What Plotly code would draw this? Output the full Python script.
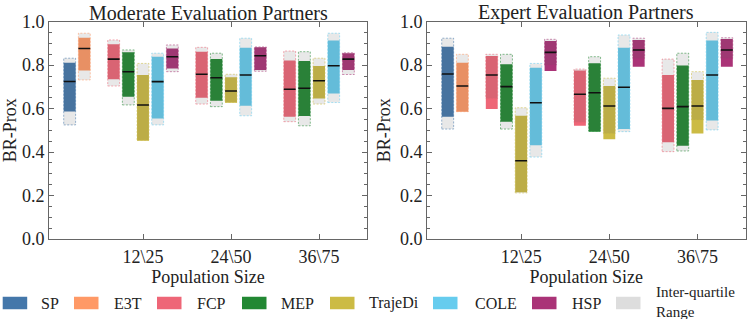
import plotly.graph_objects as go

# ---------------- data ----------------
panels = ["Moderate Evaluation Partners", "Expert Evaluation Partners"]
pop_labels = ["12\\25", "24\\50", "36\\75"]
base_methods = ["SP", "E3T"]
pop_methods = ["FCP", "MEP", "TrajeDi", "COLE", "HSP"]
legend_extra = "Inter-quartile<br>Range"

colors = {
    "SP": "#4477AA", "E3T": "#FF9966", "FCP": "#EE6677", "MEP": "#228833",
    "TrajeDi": "#CCBB44", "COLE": "#66CCEE", "HSP": "#AA3377",
}

# Moderate evaluation partners
mod_gray_lo = {"SP": [0.525], "E3T": [0.732],
               "FCP": [0.704, 0.621, 0.540], "MEP": [0.617, 0.609, 0.521],
               "TrajeDi": [0.455, 0.629, 0.621], "COLE": [0.525, 0.567, 0.628],
               "HSP": [0.770, 0.772, 0.757]}
mod_gray_hi = {"SP": [0.832], "E3T": [0.947],
               "FCP": [0.916, 0.882, 0.865], "MEP": [0.870, 0.855, 0.862],
               "TrajeDi": [0.808, 0.758, 0.832], "COLE": [0.855, 0.924, 0.947],
               "HSP": [0.893, 0.884, 0.857]}
mod_col_lo = {"SP": [0.587], "E3T": [0.775],
              "FCP": [0.735, 0.650, 0.563], "MEP": [0.655, 0.636, 0.566],
              "TrajeDi": [0.452, 0.627, 0.646], "COLE": [0.555, 0.613, 0.670],
              "HSP": [0.785, 0.778, 0.778]}
mod_col_hi = {"SP": [0.811], "E3T": [0.926],
              "FCP": [0.896, 0.862, 0.822], "MEP": [0.859, 0.828, 0.819],
              "TrajeDi": [0.755, 0.744, 0.796], "COLE": [0.839, 0.880, 0.913],
              "HSP": [0.877, 0.882, 0.855]}
mod_median = {"SP": [0.725], "E3T": [0.877],
              "FCP": [0.828, 0.758, 0.689], "MEP": [0.770, 0.742, 0.694],
              "TrajeDi": [0.617, 0.681, 0.728], "COLE": [0.724, 0.755, 0.797],
              "HSP": [0.839, 0.843, 0.828]}

# Expert evaluation partners
exp_gray_lo = {"SP": [0.506], "E3T": [0.586],
               "FCP": [0.647, 0.537, 0.402], "MEP": [0.506, 0.497, 0.405],
               "TrajeDi": [0.212, 0.486, 0.548], "COLE": [0.377, 0.494, 0.502],
               "HSP": [0.801, 0.832, 0.832]}
exp_gray_hi = {"SP": [0.924], "E3T": [0.850],
               "FCP": [0.850, 0.782, 0.828], "MEP": [0.850, 0.839, 0.855],
               "TrajeDi": [0.604, 0.740, 0.770], "COLE": [0.808, 0.939, 0.951],
               "HSP": [0.919, 0.924, 0.926]}
exp_col_lo = {"SP": [0.563], "E3T": [0.586],
              "FCP": [0.598, 0.521, 0.445], "MEP": [0.540, 0.494, 0.429],
              "TrajeDi": [0.215, 0.459, 0.486], "COLE": [0.431, 0.506, 0.545],
              "HSP": [0.773, 0.793, 0.793]}
exp_col_hi = {"SP": [0.885], "E3T": [0.811],
              "FCP": [0.842, 0.775, 0.755], "MEP": [0.804, 0.809, 0.798],
              "TrajeDi": [0.567, 0.704, 0.732], "COLE": [0.788, 0.880, 0.913],
              "HSP": [0.911, 0.916, 0.920]}
exp_median = {"SP": [0.759], "E3T": [0.704],
              "FCP": [0.755, 0.666, 0.601], "MEP": [0.701, 0.673, 0.609],
              "TrajeDi": [0.360, 0.612, 0.612], "COLE": [0.627, 0.698, 0.755],
              "HSP": [0.859, 0.870, 0.870]}

panel_data = [
    (mod_gray_lo, mod_gray_hi, mod_col_lo, mod_col_hi, mod_median),
    (exp_gray_lo, exp_gray_hi, exp_col_lo, exp_col_hi, exp_median),
]

# ---------------- layout constants ----------------
W, H = 747, 319
FONT = "Liberation Serif, serif"
step = 1.0 / 6.0
bar_w = 0.135
pop_pos = [1, 2, 3]
base_center = 0.25
x_range = [-0.068, 3.545]
x_domains = [[49 / W, 367 / W], [427 / W, 745.5 / W]]
y_domain = [(H - 239) / H, (H - 21.7) / H]
gray_overlay = "rgba(90,90,90,0.14)"
axis_col = "#666666"
text_col = "#222222"


def hex_rgba(h, a):
    h = h.lstrip("#")
    r, g, b = int(h[0:2], 16), int(h[2:4], 16), int(h[4:6], 16)
    return f"rgba({r},{g},{b},{a})"


def xpos(method):
    if method in base_methods:
        i = base_methods.index(method)
        return [base_center + (i - 0.5) * step]
    i = pop_methods.index(method)
    return [p + (i - 2) * step for p in pop_pos]


fig = go.Figure()

for pi, (glo, ghi, clo, chi, med) in enumerate(panel_data):
    xa = "x" if pi == 0 else "x2"
    ya = "y" if pi == 0 else "y2"
    for m in base_methods + pop_methods:
        xs = xpos(m)
        c = colors[m]
        # coloured box
        fig.add_trace(go.Bar(
            x=xs, base=clo[m], y=[h - l for h, l in zip(chi[m], clo[m])],
            width=bar_w, marker=dict(color=c, line=dict(width=0)),
            xaxis=xa, yaxis=ya, showlegend=False, hoverinfo="skip"))
        # grey inter-quartile box
        fig.add_trace(go.Bar(
            x=xs, base=glo[m], y=[h - l for h, l in zip(ghi[m], glo[m])],
            width=bar_w, marker=dict(color=gray_overlay, line=dict(width=0)),
            xaxis=xa, yaxis=ya, showlegend=False, hoverinfo="skip"))
        # dashed outline of grey box
        ox, oy = [], []
        for x, l, h in zip(xs, glo[m], ghi[m]):
            x0, x1 = x - bar_w / 2, x + bar_w / 2
            ox += [x0, x1, x1, x0, x0, None]
            oy += [l, l, h, h, l, None]
        fig.add_trace(go.Scatter(
            x=ox, y=oy, mode="lines",
            line=dict(color=hex_rgba(c, 0.55), width=1, dash="2px,1.5px"),
            xaxis=xa, yaxis=ya, showlegend=False, hoverinfo="skip"))
        # median
        mx, my = [], []
        for x, v in zip(xs, med[m]):
            mx += [x - bar_w / 2, x + bar_w / 2, None]
            my += [v, v, None]
        fig.add_trace(go.Scatter(
            x=mx, y=my, mode="lines", line=dict(color="#111111", width=1.6),
            xaxis=xa, yaxis=ya, showlegend=False, hoverinfo="skip"))

axis_common = dict(
    showline=True, linecolor=axis_col, linewidth=1, mirror="ticks",
    ticks="inside", tickcolor=axis_col, showgrid=False, zeroline=False,
    automargin=False,
    tickfont=dict(family=FONT, size=18, color=text_col),
)

layout = dict(
    template="none",
    width=W, height=H, margin=dict(l=0, r=0, t=0, b=0, pad=0),
    paper_bgcolor="white", plot_bgcolor="white", barmode="overlay",
    font=dict(family=FONT, color=text_col), showlegend=False,
)
for pi in range(2):
    sx = "" if pi == 0 else "2"
    layout["xaxis" + sx] = dict(
        axis_common, domain=x_domains[pi], range=x_range,
        tickvals=pop_pos, ticktext=pop_labels, ticklen=5,
        ticklabelstandoff=1,
        anchor="y" + sx,
        title=dict(text="Population Size", font=dict(family=FONT, size=18, color=text_col),
                   standoff=0),
    )
    layout["yaxis" + sx] = dict(
        axis_common, domain=y_domain, range=[0, 1], dtick=0.2, tickformat=".1f",
        ticklen=5, anchor="x" + sx,
        minor=dict(dtick=0.05, ticks="inside", ticklen=3, tickcolor=axis_col),
        title=dict(text="BR-Prox", font=dict(family=FONT, size=18, color=text_col),
                   standoff=4),
    )
fig.update_layout(**layout)

# panel titles
for pi, t in enumerate(panels):
    fig.add_annotation(
        text=t, xref="paper", yref="paper",
        x=sum(x_domains[pi]) / 2, y=(H - 13) / H, xanchor="center", yanchor="middle",
        borderpad=0, showarrow=False, font=dict(family=FONT, size=20, color=text_col))

# custom legend
legend_names = base_methods + pop_methods + [legend_extra]
legend_colors = [colors[m] for m in base_methods + pop_methods] + ["#DDDDDD"]
legend_sq_x = [2.7, 74, 157, 242, 330, 433, 532, 616]
legend_txt_x = [39, 112, 195, 279, 367, 473, 570, 654]
legend_txt_size = [16, 16, 16, 16, 16, 16, 16, 15]
legend_txt_yc = [303, 303, 303, 303, 303, 303, 303, 301.5]
sq_w, sq_h, leg_yc = 24.5, 12.5, 303
for name, col, sx0, tx, fs, ty in zip(legend_names, legend_colors, legend_sq_x,
                                      legend_txt_x, legend_txt_size, legend_txt_yc):
    fig.add_shape(type="rect", xref="paper", yref="paper",
                  x0=sx0 / W, x1=(sx0 + sq_w) / W,
                  y0=(H - leg_yc - sq_h / 2) / H, y1=(H - leg_yc + sq_h / 2) / H,
                  fillcolor=col, line=dict(width=0))
    fig.add_annotation(text=name, xref="paper", yref="paper", x=tx / W,
                       y=(H - ty) / H, xanchor="left", yanchor="middle",
                       align="left", showarrow=False,
                       font=dict(family=FONT, size=fs, color=text_col))

fig.write_html(
    "out.html",
    config={"displayModeBar": False},
    post_script="document.body.style.margin='0px';document.body.style.overflow='hidden';",
)
